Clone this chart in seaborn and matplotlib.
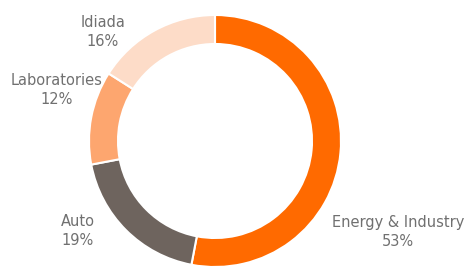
import matplotlib
matplotlib.use('Agg')
import matplotlib.pyplot as plt
import seaborn as sns

# segment shares (%), clockwise from 12 o'clock
segments = ['Energy & Industry', 'Auto', 'Laboratories', 'Idiada']
shares = [53, 19, 12, 16]
colors = ['#ff6a00', '#6e645e', '#fda66f', '#fddcc8']

# where the labels sit (pixels from top-left)
label_pos = [(398, 232), (78, 231), (57, 90), (103, 32)]

sns.set_theme(style='white')
plt.rcParams['font.family'] = ['DejaVu Sans']

W, H = 469, 266
fig = plt.figure(figsize=(W / 100, H / 100), dpi=100)
fig.patch.set_facecolor('white')
ax = fig.add_axes([0, 0, 1, 1])

ax.pie(shares, colors=colors, startangle=90, counterclock=False,
       center=(215, H - 141), radius=126, frame=True,
       wedgeprops=dict(width=29, edgecolor='white', linewidth=1.5))

for name, pct, (x, y) in zip(segments, shares, label_pos):
    ax.text(x, H - y, f'{name}\n{pct}%', ha='center', va='center',
            fontsize=10.5, color='#707070', linespacing=1.3)

ax.set_xlim(0, W)
ax.set_ylim(0, H)
ax.set_aspect('equal')
ax.axis('off')

fig.savefig('out.png', dpi=100)
